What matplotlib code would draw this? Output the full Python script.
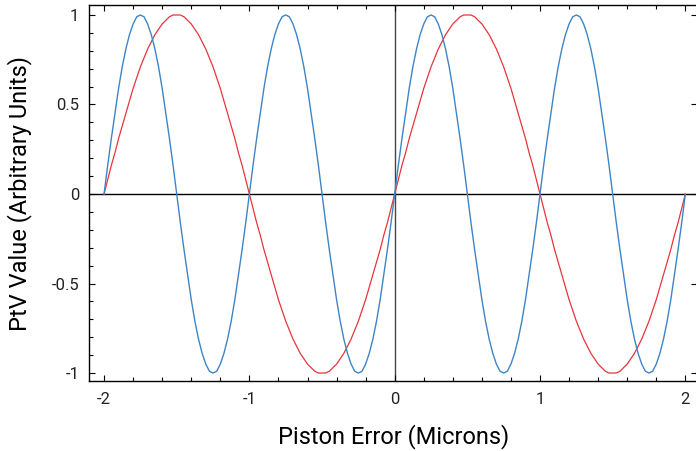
import matplotlib.pyplot as plt
from matplotlib.ticker import MultipleLocator, FixedLocator, FixedFormatter

plt.rcParams['axes.unicode_minus'] = False

# piston error samples (microns), step 0.025
x = [-2.0 + 0.025 * i for i in range(161)]

# PtV value, fine-pitch signal (blue)
blue = [0, 0.16, 0.31, 0.45, 0.59, 0.71, 0.81, 0.89, 0.95, 0.99, 1, 0.99, 0.95, 0.89, 0.81, 0.71, 0.59, 0.45, 0.31, 0.16,
        0, -0.16, -0.31, -0.45, -0.59, -0.71, -0.81, -0.89, -0.95, -0.99, -1, -0.99, -0.95, -0.89, -0.81, -0.71, -0.59, -0.45, -0.31, -0.16,
        0, 0.16, 0.31, 0.45, 0.59, 0.71, 0.81, 0.89, 0.95, 0.99, 1, 0.99, 0.95, 0.89, 0.81, 0.71, 0.59, 0.45, 0.31, 0.16,
        0, -0.16, -0.31, -0.45, -0.59, -0.71, -0.81, -0.89, -0.95, -0.99, -1, -0.99, -0.95, -0.89, -0.81, -0.71, -0.59, -0.45, -0.31, -0.16,
        0, 0.16, 0.31, 0.45, 0.59, 0.71, 0.81, 0.89, 0.95, 0.99, 1, 0.99, 0.95, 0.89, 0.81, 0.71, 0.59, 0.45, 0.31, 0.16,
        0, -0.16, -0.31, -0.45, -0.59, -0.71, -0.81, -0.89, -0.95, -0.99, -1, -0.99, -0.95, -0.89, -0.81, -0.71, -0.59, -0.45, -0.31, -0.16,
        0, 0.16, 0.31, 0.45, 0.59, 0.71, 0.81, 0.89, 0.95, 0.99, 1, 0.99, 0.95, 0.89, 0.81, 0.71, 0.59, 0.45, 0.31, 0.16,
        0, -0.16, -0.31, -0.45, -0.59, -0.71, -0.81, -0.89, -0.95, -0.99, -1, -0.99, -0.95, -0.89, -0.81, -0.71, -0.59, -0.45, -0.31, -0.16,
        0]

# PtV value, coarse-pitch signal (red)
red = [0, 0.08, 0.16, 0.23, 0.31, 0.38, 0.45, 0.52, 0.59, 0.65, 0.71, 0.76, 0.81, 0.85, 0.89, 0.92, 0.95, 0.97, 0.99, 1,
       1, 1, 0.99, 0.97, 0.95, 0.92, 0.89, 0.85, 0.81, 0.76, 0.71, 0.65, 0.59, 0.52, 0.45, 0.38, 0.31, 0.23, 0.16, 0.08,
       0, -0.08, -0.16, -0.23, -0.31, -0.38, -0.45, -0.52, -0.59, -0.65, -0.71, -0.76, -0.81, -0.85, -0.89, -0.92, -0.95, -0.97, -0.99, -1,
       -1, -1, -0.99, -0.97, -0.95, -0.92, -0.89, -0.85, -0.81, -0.76, -0.71, -0.65, -0.59, -0.52, -0.45, -0.38, -0.31, -0.23, -0.16, -0.08,
       0, 0.08, 0.16, 0.23, 0.31, 0.38, 0.45, 0.52, 0.59, 0.65, 0.71, 0.76, 0.81, 0.85, 0.89, 0.92, 0.95, 0.97, 0.99, 1,
       1, 1, 0.99, 0.97, 0.95, 0.92, 0.89, 0.85, 0.81, 0.76, 0.71, 0.65, 0.59, 0.52, 0.45, 0.38, 0.31, 0.23, 0.16, 0.08,
       0, -0.08, -0.16, -0.23, -0.31, -0.38, -0.45, -0.52, -0.59, -0.65, -0.71, -0.76, -0.81, -0.85, -0.89, -0.92, -0.95, -0.97, -0.99, -1,
       -1, -1, -0.99, -0.97, -0.95, -0.92, -0.89, -0.85, -0.81, -0.76, -0.71, -0.65, -0.59, -0.52, -0.45, -0.38, -0.31, -0.23, -0.16, -0.08,
       0]

x_ticks = [-2, -1, 0, 1, 2]
x_labels = ['-2', '-1', '0', '1', '2']
y_ticks = [-1, -0.5, 0, 0.5, 1]
y_labels = ['-1', '-0.5', '0', '0.5', '1']

fig = plt.figure(figsize=(6.96, 4.51), dpi=100)
ax = fig.add_axes([0.128, 0.155, 0.874, 0.834])

ax.axhline(0, color='black', lw=1.0, zorder=1)
ax.axvline(0, color='#444444', lw=1.0, zorder=1)
ax.plot(x, blue, color='#3d85c6', lw=1.0, zorder=3)
ax.plot(x, red, color='#e8343c', lw=0.9, zorder=2)

ax.set_xlim(-2.103, 2.083)
ax.set_ylim(-1.045, 1.056)

ax.xaxis.set_major_locator(FixedLocator(x_ticks))
ax.xaxis.set_major_formatter(FixedFormatter(x_labels))
ax.xaxis.set_minor_locator(MultipleLocator(0.2))
ax.yaxis.set_major_locator(FixedLocator(y_ticks))
ax.yaxis.set_major_formatter(FixedFormatter(y_labels))
ax.yaxis.set_minor_locator(MultipleLocator(0.1))

ax.tick_params(which='both', direction='in', top=True, right=True,
               width=0.8, colors='black')
ax.tick_params(which='major', length=4, pad=8)
ax.tick_params(which='minor', length=3, right=False)
ax.tick_params(axis='y', which='major', pad=7)
for lab in ax.get_xticklabels() + ax.get_yticklabels():
    lab.set_family('Roboto')
    lab.set_fontsize(12)
    lab.set_color('#222222')

for s in ax.spines.values():
    s.set_linewidth(1.0)
    s.set_color('black')

lab_font = dict(family=['Roboto', 'DejaVu Sans'], size=17)
ax.set_xlabel('Piston Error (Microns)', labelpad=12, **lab_font)
ax.set_ylabel('PtV Value (Arbitrary Units)', labelpad=14, **lab_font)

plt.savefig('out.png', dpi=100)
